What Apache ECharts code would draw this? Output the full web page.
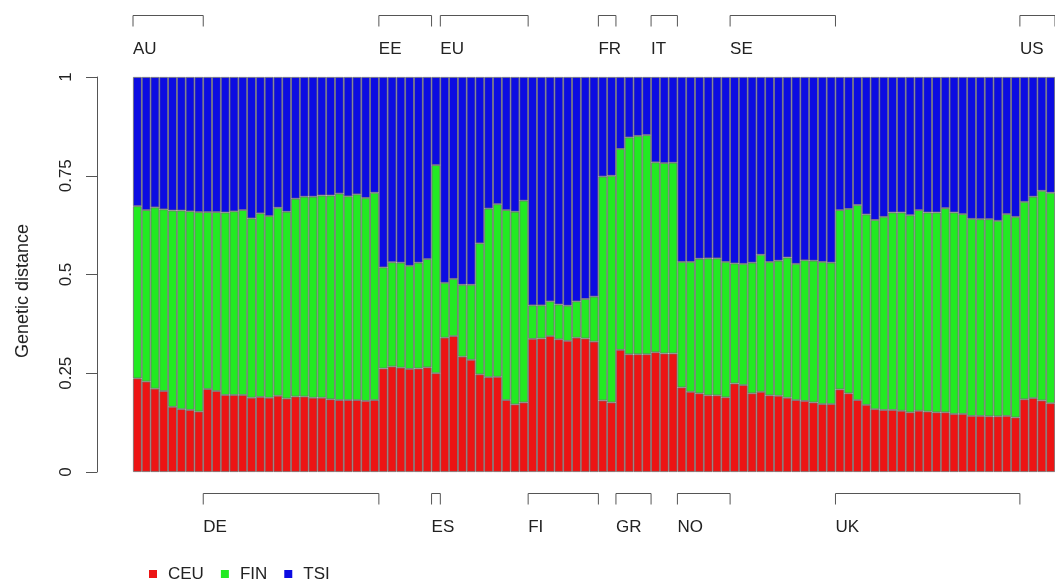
<!DOCTYPE html>
<html>
<head>
<meta charset="utf-8">
<script src="https://cdn.jsdelivr.net/npm/echarts@6/dist/echarts.min.js"></script>
<style>
  html, body { margin: 0; padding: 0; background: #fff; }
  #chart { width: 1055px; height: 584px; }
</style>
</head>
<body>
<div id="chart"></div>
<script>
// population groups, in bar order
const groupNames = ['AU', 'DE', 'EE', 'ES', 'EU', 'FI', 'FR', 'GR', 'IT', 'NO', 'SE', 'UK', 'US'];
const groupSizes = [8, 20, 6, 1, 10, 8, 2, 4, 3, 6, 12, 21, 4];

const ceu = [
  0.237, 0.229, 0.211, 0.205, 0.165, 0.159, 0.157, 0.153,
  0.210, 0.205, 0.195, 0.195, 0.195, 0.188, 0.190, 0.188, 0.193, 0.186,
  0.191, 0.191, 0.188, 0.188, 0.184, 0.182, 0.182, 0.182, 0.180, 0.182,
  0.262, 0.267, 0.264, 0.261, 0.262, 0.265,
  0.250,
  0.340, 0.344, 0.292, 0.284, 0.247, 0.240, 0.241, 0.182, 0.171, 0.176,
  0.337, 0.338, 0.344, 0.336, 0.332, 0.340, 0.338, 0.330,
  0.181, 0.176,
  0.309, 0.298, 0.298, 0.298,
  0.303, 0.300, 0.300,
  0.214, 0.203, 0.199, 0.194, 0.194, 0.189,
  0.224, 0.220, 0.199, 0.203, 0.194, 0.193, 0.188, 0.182, 0.180, 0.176, 0.172, 0.172,
  0.209, 0.199, 0.182, 0.170, 0.159, 0.157, 0.157, 0.155, 0.151, 0.155, 0.153,
  0.151, 0.151, 0.147, 0.147, 0.142, 0.142, 0.141, 0.141, 0.142, 0.138,
  0.184, 0.187, 0.181, 0.174
];
const fin = [
  0.436, 0.434, 0.459, 0.460, 0.497, 0.503, 0.503, 0.505,
  0.448, 0.453, 0.462, 0.465, 0.468, 0.454, 0.465, 0.460, 0.476, 0.473,
  0.501, 0.506, 0.509, 0.512, 0.516, 0.523, 0.516, 0.521, 0.514, 0.525,
  0.256, 0.264, 0.266, 0.261, 0.268, 0.274,
  0.527,
  0.139, 0.145, 0.182, 0.190, 0.332, 0.427, 0.437, 0.481, 0.488, 0.511,
  0.085, 0.084, 0.088, 0.088, 0.089, 0.092, 0.100, 0.114,
  0.567, 0.574,
  0.509, 0.549, 0.553, 0.555,
  0.481, 0.482, 0.483,
  0.318, 0.329, 0.341, 0.347, 0.347, 0.343,
  0.304, 0.307, 0.331, 0.347, 0.338, 0.342, 0.355, 0.345, 0.356, 0.359, 0.360, 0.358,
  0.454, 0.467, 0.494, 0.482, 0.479, 0.489, 0.500, 0.502, 0.499, 0.508, 0.504,
  0.506, 0.517, 0.510, 0.506, 0.499, 0.498, 0.499, 0.495, 0.511, 0.508,
  0.500, 0.510, 0.531, 0.533
];
const tsi = [
  0.327, 0.337, 0.330, 0.335, 0.338, 0.338, 0.340, 0.342,
  0.342, 0.342, 0.343, 0.340, 0.337, 0.358, 0.345, 0.352, 0.331, 0.341,
  0.308, 0.303, 0.303, 0.300, 0.300, 0.295, 0.302, 0.297, 0.306, 0.293,
  0.482, 0.469, 0.470, 0.478, 0.470, 0.461,
  0.223,
  0.521, 0.511, 0.526, 0.526, 0.421, 0.333, 0.322, 0.337, 0.341, 0.313,
  0.578, 0.578, 0.568, 0.576, 0.579, 0.568, 0.562, 0.556,
  0.252, 0.250,
  0.182, 0.153, 0.149, 0.147,
  0.216, 0.218, 0.217,
  0.468, 0.468, 0.460, 0.459, 0.459, 0.468,
  0.472, 0.473, 0.470, 0.450, 0.468, 0.465, 0.457, 0.473, 0.464, 0.465, 0.468, 0.470,
  0.337, 0.334, 0.324, 0.348, 0.362, 0.354, 0.343, 0.343, 0.350, 0.337, 0.343,
  0.343, 0.332, 0.343, 0.347, 0.359, 0.360, 0.360, 0.364, 0.347, 0.354,
  0.316, 0.303, 0.288, 0.293
];
const yTicks = [0, 0.25, 0.5, 0.75, 1];

// one category per sample, plus start/end index of each group
const categories = [];
const groupInfo = [];
groupNames.forEach((name, g) => {
  const start = categories.length;
  for (let i = 1; i <= groupSizes[g]; i++) categories.push(name + i);
  groupInfo.push({ name: name, start: start, end: categories.length - 1, top: g % 2 === 0 });
});

const font = '"Liberation Sans", Arial, Helvetica, sans-serif';
const textColor = '#222';
const lineColor = '#555';

function barSeries(name, data, color) {
  return {
    name: name,
    type: 'bar',
    stack: 'all',
    data: data,
    barCategoryGap: '0%',
    itemStyle: { color: color, borderColor: '#707070', borderWidth: 0.8 },
    emphasis: { disabled: true }
  };
}

const chart = echarts.init(document.getElementById('chart'));
chart.setOption({
  animation: false,
  backgroundColor: '#fff',
  grid: { left: 133, right: 0, top: 77, bottom: 112 },
  xAxis: {
    type: 'category',
    data: categories,
    show: false
  },
  yAxis: {
    type: 'value',
    min: 0,
    max: 1,
    interval: 0.25,
    offset: 36,
    axisLine: { show: true, lineStyle: { color: lineColor, width: 1 } },
    axisTick: { show: true, length: 11, lineStyle: { color: lineColor } },
    axisLabel: {
      rotate: 90,
      margin: 22,
      color: textColor,
      fontSize: 17,
      fontFamily: font,
      formatter: v => yTicks.indexOf(v) >= 0 ? String(v) : ''
    },
    splitLine: { show: false }
  },
  legend: {
    data: ['CEU', 'FIN', 'TSI'],
    left: 144,
    top: 559,
    icon: 'rect',
    itemWidth: 8,
    itemHeight: 8,
    itemGap: 17,
    itemStyle: { borderWidth: 0 },
    textStyle: { fontSize: 17, fontFamily: font, color: textColor, padding: [0, 0, 0, 6], lineHeight: 20 }
  },
  graphic: [{
    type: 'text',
    x: 23,
    y: 291,
    rotation: Math.PI / 2,
    style: {
      text: 'Genetic distance',
      font: '18px ' + font,
      fill: textColor,
      align: 'center',
      verticalAlign: 'middle'
    }
  }],
  series: [
    barSeries('CEU', ceu, '#ec1414'),
    barSeries('FIN', fin, '#22ea22'),
    barSeries('TSI', tsi, '#0c0ce2'),
    {
      type: 'custom',
      name: 'groups',
      clip: false,
      silent: true,
      z: 10,
      data: groupInfo.map(g => [g.start, 0]),
      renderItem: function (params, api) {
        const g = groupInfo[params.dataIndex];
        const bw = api.size([1, 0])[0];
        const x0 = api.coord([g.start, 0])[0] - bw / 2;
        const x1 = api.coord([g.end, 0])[0] + bw / 2;
        const yTop = api.coord([0, 1])[1];
        const yBot = api.coord([0, 0])[1];
        const lineY = g.top ? yTop - 61.5 : yBot + 21.5;
        const tickY = lineY + 11;
        const labelY = g.top ? yTop - 28 : yBot + 55.5;
        return {
          type: 'group',
          children: [{
            type: 'polyline',
            shape: { points: [[x0, tickY], [x0, lineY], [x1, lineY], [x1, tickY]] },
            style: { stroke: lineColor, lineWidth: 1, fill: null }
          }, {
            type: 'text',
            x: x0,
            y: labelY,
            style: {
              text: g.name,
              font: '17px ' + font,
              fill: textColor,
              align: 'left',
              verticalAlign: 'middle'
            }
          }]
        };
      }
    }
  ]
});
</script>
</body>
</html>
